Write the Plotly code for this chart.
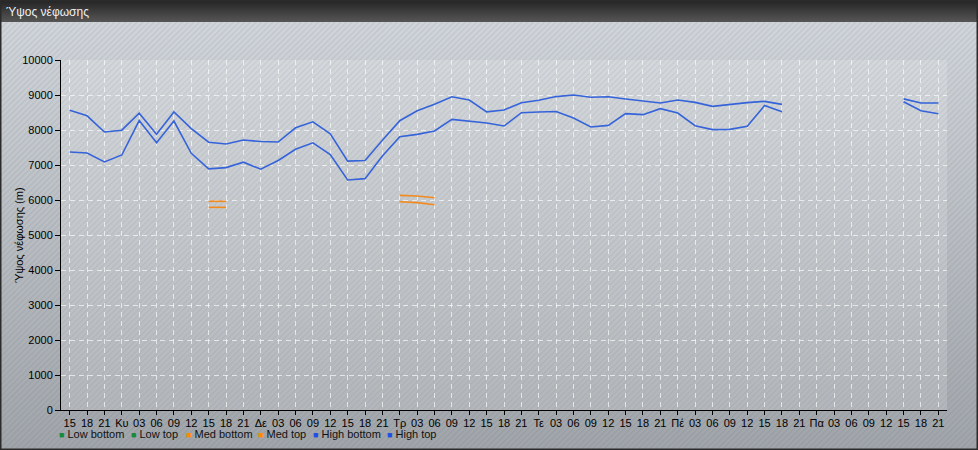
import base64
import plotly.graph_objects as go

# ---------------- data ----------------
tick_labels = ["15", "18", "21",
               "Κυ", "03", "06", "09", "12", "15", "18", "21",
               "Δε", "03", "06", "09", "12", "15", "18", "21",
               "Τρ", "03", "06", "09", "12", "15", "18", "21",
               "Τε", "03", "06", "09", "12", "15", "18", "21",
               "Πέ", "03", "06", "09", "12", "15", "18", "21",
               "Πα", "03", "06", "09", "12", "15", "18", "21"]
N = len(tick_labels)
x_idx = list(range(N))

low_bottom = [None] * N
low_top = [None] * N

med_bottom = [None] * N
med_bottom[8] = 5790
med_bottom[9] = 5790
med_bottom[19] = 5952
med_bottom[20] = 5924
med_bottom[21] = 5866

med_top = [None] * N
med_top[8] = 5962
med_top[9] = 5962
med_top[19] = 6133
med_top[20] = 6114
med_top[21] = 6066

high_bottom = [7371, 7343, 7086, 7286, 8270, 7635, 8257, 7335, 6890, 6925,
               7080, 6880, 7130, 7450, 7635, 7300, 6571, 6610, 7260, 7810,
               7876, 7971, 8305, 8250, 8200, 8114, 8495, 8514, 8530, 8343,
               8086, 8133, 8467, 8438, 8610, 8486, 8124, 8010, 8019, 8105,
               8700, 8524, None, None, None, None, None, None, 8809, 8551,
               8466]
high_top = [8565, 8405, 7943, 7995, 8480, 7880, 8514, 8040, 7652, 7600,
            7714, 7670, 7657, 8062, 8235, 7890, 7110, 7130, 7710, 8265,
            8550, 8735, 8950, 8857, 8520, 8571, 8780, 8850, 8955, 9000,
            8935, 8950, 8886, 8835, 8771, 8857, 8790, 8676, 8733, 8781,
            8819, 8733, None, None, None, None, None, None, 8890, 8771,
            8771]

series_names = ["Low bottom", "Low top", "Med bottom", "Med top", "High bottom", "High top"]
series_values = [low_bottom, low_top, med_bottom, med_top, high_bottom, high_top]
line_colors = ["#1f8a3c", "#1f8a3c", "#f28a1e", "#f28a1e", "#3563d9", "#3563d9"]
legend_colors = ["#178a3c", "#178a3c", "#ff8a00", "#ff8a00", "#1f4fe8", "#1f4fe8"]

# ---------------- layout geometry ----------------
W, H = 978, 450
ML, MR, MT, MB = 61, 31, 60, 40
PW, PH = W - ML - MR, H - MT - MB

FONT = "Liberation Sans, Arial, sans-serif"

# background (gradient + diagonal stripes + title bar + frame)
svg = f"""<svg xmlns='http://www.w3.org/2000/svg' width='{W}' height='{H}'>
<defs>
<linearGradient id='g' x1='0' y1='0' x2='0' y2='1'>
<stop offset='0' stop-color='#d4d8dc'/><stop offset='1' stop-color='#a1a5a9'/></linearGradient>
<linearGradient id='t' x1='0' y1='0' x2='0' y2='1'>
<stop offset='0' stop-color='#232323'/><stop offset='1' stop-color='#565656'/></linearGradient>
<pattern id='p' width='4' height='4' patternUnits='userSpaceOnUse' patternTransform='rotate(45)'>
<rect width='1.3' height='4' fill='rgb(70,90,120)' fill-opacity='0.13'/></pattern>
</defs>
<rect width='{W}' height='{H}' fill='url(#g)'/>
<rect width='{W}' height='{H}' fill='url(#p)'/>
<rect x='0' y='0' width='{W}' height='22' fill='url(#t)'/>
<rect x='0.75' y='0.75' width='{W-1.5}' height='{H-1.5}' fill='none' stroke='#2b2b2b' stroke-width='1.5'/>
</svg>"""
svg_uri = "data:image/svg+xml;base64," + base64.b64encode(svg.encode("utf-8")).decode("ascii")

fig = go.Figure()

for name, vals, col in zip(series_names, series_values, line_colors):
    fig.add_trace(go.Scatter(
        x=x_idx, y=vals, mode="lines", name=name,
        line=dict(color=col, width=1.6),
        connectgaps=False, showlegend=False, hoverinfo="skip",
    ))

def px_x(px):
    return (px - ML) / PW

def px_y(py):
    return (MT + PH - py) / PH

# legend drawn as text items under the plot
legend_px = [58, 130, 185, 257, 312, 386]
annotations = []
for name, col, px in zip(series_names, legend_colors, legend_px):
    annotations.append(dict(
        xref="paper", yref="paper",
        x=px_x(px), y=px_y(434),
        xanchor="left", yanchor="middle", showarrow=False, borderpad=0,
        text=f"<span style='color:{col};font-size:9px'>■</span> {name}",
        font=dict(family=FONT, size=11, color="#111111"),
    ))

# title bar text
annotations.append(dict(
    xref="paper", yref="paper",
    x=px_x(5), y=px_y(12),
    xanchor="left", yanchor="middle", showarrow=False, borderpad=0,
    text="Ύψος νέφωσης",
    font=dict(family=FONT, size=12, color="#f0f0f0"),
))

# y-axis title
annotations.append(dict(
    xref="paper", yref="paper",
    x=px_x(19), y=px_y(235),
    xanchor="center", yanchor="middle", showarrow=False, borderpad=0,
    textangle=-90,
    text="Ύψος νέφωσης (m)",
    font=dict(family=FONT, size=11, color="#000000"),
))

fig.update_layout(
    width=W, height=H,
    margin=dict(l=ML, r=MR, t=MT, b=MB, pad=0, autoexpand=False),
    paper_bgcolor="rgba(0,0,0,0)",
    plot_bgcolor="rgba(0,0,0,0)",
    font=dict(family=FONT, size=11, color="#000000"),
    showlegend=False,
    annotations=annotations,
    images=[dict(
        source=svg_uri, xref="paper", yref="paper",
        x=-ML / PW, y=1 + MT / PH, sizex=W / PW, sizey=H / PH,
        xanchor="left", yanchor="top", sizing="stretch", layer="below",
    )],
    shapes=[dict(
        type="rect", xref="paper", yref="paper", x0=0, x1=1, y0=0, y1=1,
        fillcolor="rgba(255,255,255,0.16)", line=dict(width=0), layer="below",
    )],
    xaxis=dict(
        range=[-0.5, N - 0.5], automargin=False,
        tickmode="array", tickvals=x_idx, ticktext=tick_labels,
        tickangle=0, ticklabelstandoff=-1,
        showline=True, linecolor="#000000", linewidth=1,
        ticks="outside", ticklen=4, tickcolor="#000000",
        showgrid=True, gridcolor="rgba(255,255,255,0.65)", griddash="5px,4px", gridwidth=1,
        zeroline=False, fixedrange=True,
        tickfont=dict(family=FONT, size=11, color="#000000"),
    ),
    yaxis=dict(
        range=[0, 10000], dtick=1000, tick0=0, tickformat="d", automargin=False,
        showline=True, linecolor="#000000", linewidth=1,
        ticks="outside", ticklen=5, tickcolor="#000000",
        showgrid=True, gridcolor="rgba(255,255,255,0.65)", griddash="5px,4px", gridwidth=1,
        zeroline=False, fixedrange=True,
        tickfont=dict(family=FONT, size=11, color="#000000"),
    ),
)

fig.write_html(
    "out.html",
    config={"displayModeBar": False},
    post_script="document.body.style.margin='0';document.body.style.padding='0';",
)
